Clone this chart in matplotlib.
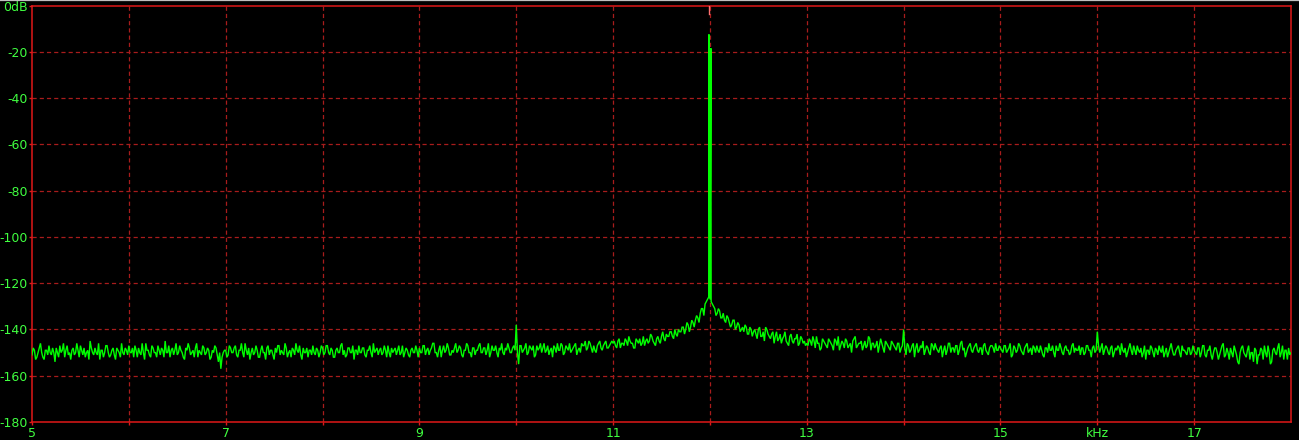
import numpy as np
import matplotlib
matplotlib.use("Agg")
import matplotlib.pyplot as plt
from matplotlib.lines import Line2D

# ---------------- data ----------------
f_start, f_step = 5.0, 0.025   # kHz; "mid" rows sit half a step later

noise_5 = [-151,-149,-152,-148,-150,-153,-149,-147,-151,-150, -148,-152,-150,-146,-149,-151,-153,-148,-150,-149,
           -147,-151,-152,-149,-145,-150,-148,-151,-153,-149, -150,-147,-152,-149,-151,-148,-150,-146,-151,-149]
noise_6 = [-147,-150,-152,-149,-148,-151,-150,-146,-149,-152, -148,-150,-147,-151,-149,-145,-150,-152,-148,-149,
           -151,-147,-150,-153,-149,-148,-150,-152,-146,-149, -151,-148,-150,-149,-152,-150,-148,-154,-157,-150]
noise_7 = [-149,-151,-148,-150,-147,-152,-149,-150,-146,-151, -153,-148,-150,-149,-152,-147,-150,-148,-151,-149,
           -153,-150,-147,-149,-151,-148,-150,-152,-149,-146, -150,-151,-148,-150,-152,-149,-147,-151,-149,-150]
noise_8 = [-148,-150,-147,-151,-149,-152,-148,-150,-146,-149, -151,-148,-150,-153,-149,-147,-150,-148,-152,-149,
           -150,-146,-149,-151,-148,-150,-149,-147,-152,-150, -148,-149,-151,-147,-150,-149,-152,-148,-150,-149]
noise_9 = [-148,-150,-147,-149,-151,-148,-146,-150,-149,-152, -147,-149,-148,-151,-150,-146,-149,-148,-152,-149,
           -147,-150,-148,-151,-149,-146,-150,-148,-149,-152, -147,-149,-150,-148,-146,-151,-149,-148,-150,-147]
noise_10 = [-138,-155,-147,-149,-146,-150,-148,-147,-151,-149, -146,-148,-150,-147,-149,-152,-148,-146,-149,-147,
            -150,-148,-146,-149,-147,-151,-148,-146,-147,-149, -145,-148,-147,-150,-146,-148,-147,-145,-148,-146]
noise_11 = [-146,-147,-145,-148,-146,-144,-147,-145,-146,-148, -145,-144,-146,-147,-144,-145,-143,-146,-144,-145,
            -143,-144,-142,-143,-141,-144,-142,-140,-141,-139, -140,-138,-139,-137,-136,-135,-133,-131,-129,-127]
noise_12 = [-127,-129,-131,-133,-132,-135,-136,-134,-137,-138, -136,-139,-138,-140,-141,-139,-142,-140,-141,-142,
            -140,-143,-141,-139,-142,-144,-141,-143,-145,-142, -144,-141,-146,-143,-145,-144,-142,-146,-144,-145]
noise_13 = [-146,-144,-147,-145,-143,-146,-148,-145,-147,-144, -146,-149,-145,-143,-147,-146,-144,-148,-146,-145,
            -143,-147,-146,-149,-145,-147,-144,-146,-148,-145, -147,-146,-150,-146,-148,-145,-147,-149,-146,-148]
noise_14 = [-140,-151,-147,-149,-146,-148,-150,-147,-145,-149, -148,-151,-147,-146,-149,-148,-152,-147,-149,-146,
            -148,-150,-147,-149,-145,-148,-150,-147,-149,-148, -146,-150,-148,-147,-149,-151,-147,-148,-146,-149]
noise_15 = [-148,-150,-147,-149,-146,-151,-148,-149,-147,-150, -148,-146,-149,-151,-148,-147,-150,-149,-152,-148,
            -146,-149,-150,-147,-149,-148,-151,-147,-149,-150, -146,-148,-149,-151,-148,-150,-147,-149,-148,-150]
noise_16 = [-141,-150,-146,-149,-148,-151,-147,-150,-149,-148, -146,-150,-152,-148,-149,-147,-151,-149,-148,-150,
            -153,-149,-147,-150,-148,-151,-149,-147,-150,-152, -148,-149,-151,-148,-150,-147,-149,-151,-148,-150]
noise_17 = [-149,-151,-148,-150,-147,-152,-149,-151,-150,-148, -153,-149,-146,-151,-150,-148,-152,-149,-154,-150,
            -147,-151,-149,-153,-150,-148,-155,-151,-149,-147, -152,-150,-154,-148,-151,-146,-150,-153,-149,-148]
noise_end = [-150]

mid_5 = [-148,-153,-150,-146,-152,-149,-151,-150,-148,-154, -150,-147,-149,-152,-147,-150,-149,-151,-146,-152,
         -149,-148,-150,-153,-148,-151,-150,-146,-149,-152, -147,-150,-151,-148,-153,-149,-152,-150,-148,-151]
mid_6 = [-150,-148,-147,-152,-150,-146,-153,-149,-151,-147, -150,-152,-149,-148,-152,-150,-147,-149,-151,-146,
         -150,-149,-152,-148,-146,-151,-149,-148,-152,-150, -147,-151,-148,-153,-149,-147,-151,-150,-152,-149]
mid_7 = [-152,-147,-150,-148,-151,-149,-146,-152,-149,-148, -150,-151,-147,-152,-149,-150,-153,-147,-149,-151,
         -148,-147,-151,-150,-146,-152,-149,-148,-151,-149, -147,-153,-150,-148,-149,-151,-150,-148,-152,-147]
mid_8 = [-151,-147,-150,-148,-152,-149,-150,-147,-151,-152, -148,-150,-147,-149,-151,-150,-148,-151,-149,-147,
         -152,-150,-148,-149,-151,-147,-152,-150,-148,-149, -151,-147,-150,-152,-148,-151,-149,-150,-147,-152]
mid_9 = [-150,-147,-151,-148,-149,-146,-150,-152,-147,-149, -150,-146,-151,-149,-148,-150,-147,-151,-149,-146,
         -150,-152,-148,-149,-147,-150,-148,-151,-146,-150, -149,-147,-152,-149,-150,-148,-146,-150,-148,-149]
mid_10 = [-150,-147,-150,-148,-151,-147,-149,-152,-147,-148, -150,-146,-149,-151,-148,-147,-150,-149,-146,-151,
          -147,-149,-150,-148,-146,-149,-150,-147,-145,-148, -146,-150,-149,-147,-145,-149,-146,-148,-147,-145]
mid_11 = [-145,-148,-144,-146,-147,-145,-143,-146,-148,-144, -146,-147,-143,-145,-146,-142,-145,-147,-143,-146,
          -141,-145,-143,-141,-143,-140,-143,-141,-139,-142, -137,-141,-136,-139,-134,-137,-131,-134,-128,-126]
mid_12 = [-128,-130,-134,-131,-135,-133,-137,-135,-139,-136, -140,-137,-141,-139,-138,-142,-139,-143,-140,-144,
          -139,-143,-145,-140,-143,-142,-146,-141,-144,-146, -143,-145,-147,-142,-146,-144,-147,-143,-146,-147]
mid_13 = [-147,-145,-143,-148,-146,-149,-144,-146,-148,-145, -147,-144,-147,-149,-145,-148,-145,-147,-150,-144,
          -148,-146,-145,-147,-148,-143,-149,-146,-147,-150, -144,-148,-145,-147,-149,-146,-148,-146,-150,-147]
mid_14 = [-148,-146,-150,-147,-152,-146,-149,-148,-151,-147, -150,-146,-149,-148,-150,-147,-149,-151,-146,-150,
          -148,-147,-151,-146,-149,-152,-148,-146,-150,-147, -149,-148,-151,-146,-150,-148,-147,-150,-149,-147]
mid_15 = [-149,-147,-150,-148,-152,-147,-150,-146,-149,-151, -147,-150,-148,-147,-150,-149,-147,-151,-148,-150,
          -149,-147,-152,-149,-146,-150,-148,-149,-151,-147, -150,-149,-147,-148,-151,-147,-149,-152,-147,-149]
mid_16 = [-147,-148,-151,-147,-150,-148,-152,-148,-147,-151, -149,-148,-150,-146,-151,-149,-147,-150,-152,-147,
          -149,-151,-148,-152,-149,-147,-150,-152,-148,-150, -146,-151,-149,-147,-152,-149,-150,-148,-151,-147]
mid_17 = [-150,-148,-152,-147,-151,-149,-147,-153,-148,-150, -151,-147,-152,-148,-153,-150,-147,-151,-155,-148,
          -150,-152,-147,-150,-154,-149,-151,-148,-153,-150, -147,-155,-149,-150,-148,-152,-147,-149,-153,-151]

# carrier peak (12 kHz tone)
peak_freqs = [11.99, 12.01]
peak_db = [-12.5, -18.5]

# peak marker
marker_freq = 11.99
marker_db = [0.0, -3.5]

x_ticks = [5, 6, 7, 8, 9, 10, 11, 12, 13, 14, 15, 16, 17]
x_ticklabels = ["5", "", "7", "", "9", "", "11", "", "13", "", "15", "kHz", "17"]
y_ticks = [0, -20, -40, -60, -80, -100, -120, -140, -160, -180]
y_ticklabels = ["0dB", "-20", "-40", "-60", "-80", "-100", "-120", "-140", "-160", "-180"]

# ---------------- build series ----------------
main_rows = [noise_5, noise_6, noise_7, noise_8, noise_9, noise_10, noise_11,
             noise_12, noise_13, noise_14, noise_15, noise_16, noise_17]
mid_rows = [mid_5, mid_6, mid_7, mid_8, mid_9, mid_10, mid_11,
            mid_12, mid_13, mid_14, mid_15, mid_16, mid_17]
main_db = np.array(sum(main_rows, []) + noise_end, dtype=float)
mid_db = np.array(sum(mid_rows, []), dtype=float)
main_f = f_start + f_step * np.arange(len(main_db))
mid_f = f_start + f_step / 2 + f_step * np.arange(len(mid_db))

freqs = np.concatenate([main_f, mid_f, peak_freqs])
levels = np.concatenate([main_db, mid_db, peak_db])
order = np.argsort(freqs, kind="stable")
freqs, levels = freqs[order], levels[order]

# ---------------- style ----------------
W, H = 1299, 440
plt.rcParams["lines.scale_dashes"] = False
plt.rcParams["font.family"] = ["Liberation Sans Narrow", "DejaVu Sans"]

fig = plt.figure(figsize=(W / 100, H / 100), dpi=100, facecolor="black")
ax = fig.add_axes([32 / W, 1 - 422 / H, (1291 - 32) / W, (422 - 5.5) / H], facecolor="black")

grid_color = "#a81c1c"
frame_color = "#e01818"
text_color = "#40ff40"

ax.set_xlim(5, 18)
ax.set_ylim(-180, 0)

for xv in x_ticks[1:]:
    ax.axvline(xv, color=grid_color, lw=0.9, dashes=(3.0, 2.2), zorder=1)
for yv in y_ticks[1:-1]:
    ax.axhline(yv, color=grid_color, lw=0.9, dashes=(3.0, 2.2), zorder=1)

ax.plot(freqs, levels, color="#00ff00", lw=1.0, zorder=3, solid_joinstyle="miter")
ax.plot([marker_freq, marker_freq], marker_db, color="#ff7070", lw=1.0, zorder=4)

for s in ax.spines.values():
    s.set_color(frame_color)
    s.set_linewidth(1.1)

ax.set_xticks(x_ticks)
ax.set_xticklabels(x_ticklabels)
ax.set_yticks(y_ticks)
ax.set_yticklabels(y_ticklabels)
ax.tick_params(axis="both", colors=frame_color, labelcolor=text_color, labelsize=9,
               length=2, width=1, direction="out")
ax.tick_params(axis="y", pad=1)
ax.tick_params(axis="x", pad=1.5)

fig.add_artist(Line2D([0, 1], [1 - 0.5 / H, 1 - 0.5 / H], color="#c0c0c0", lw=0.9,
                      transform=fig.transFigure))

fig.savefig("out.png", dpi=100, facecolor="black")
